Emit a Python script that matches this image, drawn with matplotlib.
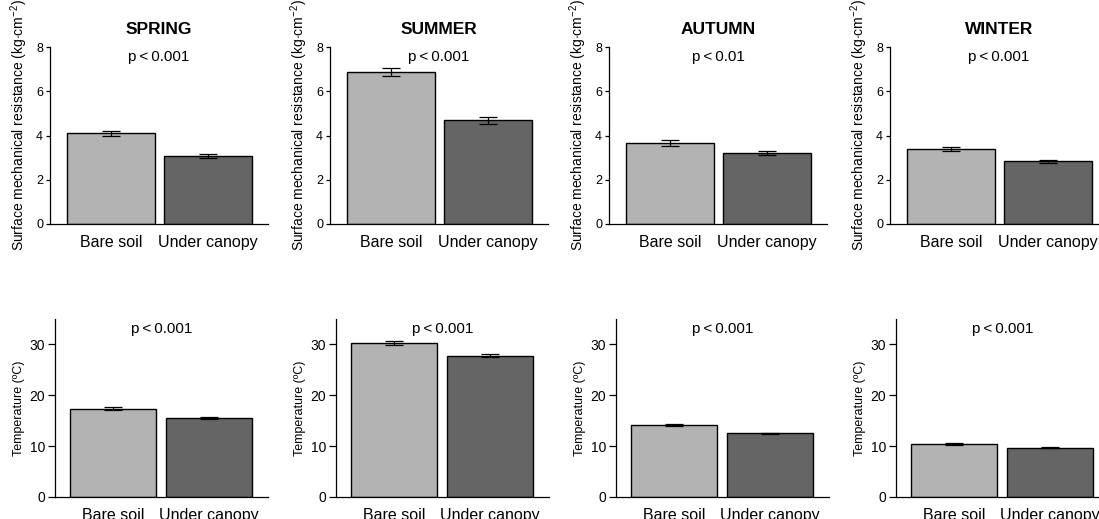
import matplotlib
matplotlib.use("Agg")
import matplotlib.pyplot as plt

plt.rcParams['font.family'] = ['Liberation Sans', 'DejaVu Sans']
plt.rcParams['mathtext.fontset'] = 'custom'
plt.rcParams['mathtext.rm'] = 'Liberation Sans'
plt.rcParams['mathtext.it'] = 'Liberation Sans:italic'

seasons = ["SPRING", "SUMMER", "AUTUMN", "WINTER"]
sites = ["Bare soil", "Under canopy"]

# Surface mechanical resistance (kg cm-2): mean and standard error
resist_mean = [[4.10, 3.07], [6.85, 4.68], [3.66, 3.20], [3.39, 2.83]]
resist_se = [[0.10, 0.10], [0.18, 0.14], [0.12, 0.08], [0.08, 0.07]]
resist_p = ["p\u2009<\u20090.001", "p\u2009<\u20090.001", "p\u2009<\u20090.01", "p\u2009<\u20090.001"]

# Soil temperature (ºC): mean and standard error
temp_mean = [[17.4, 15.5], [30.3, 27.8], [14.2, 12.5], [10.4, 9.7]]
temp_se = [[0.25, 0.25], [0.35, 0.35], [0.20, 0.15], [0.15, 0.12]]
temp_p = ["p\u2009<\u20090.001"] * 4

bar_colors = ["#b3b3b3", "#656565"]

W, H = 1099, 519
fig = plt.figure(figsize=(W / 100, H / 100), dpi=100)


def px_axes(left, right, top, bottom):
    return fig.add_axes([left / W, (H - bottom) / H, (right - left) / W, (bottom - top) / H])


def draw_panel(ax, means, ses, ptext, ylim, yticks, ylabel, xlim, label_xy,
               tick_len, tick_size, ylab_size):
    xs = [0, 1]
    ax.bar(xs, means, width=0.9, color=bar_colors, edgecolor="black", linewidth=1.0, zorder=2)
    ax.errorbar(xs, means, yerr=ses, fmt="none", ecolor="black", elinewidth=0.9,
                capsize=6.5, capthick=0.9, zorder=3)
    ax.set_xlim(*xlim)
    ax.set_ylim(*ylim)
    ax.set_yticks(yticks)
    ax.set_xticks(xs)
    ax.set_xticklabels(sites, fontsize=11.5)
    ax.tick_params(axis="x", length=0, pad=8)
    ax.tick_params(axis="y", length=tick_len, width=0.9, labelsize=tick_size, pad=2)
    for s in ("top", "right"):
        ax.spines[s].set_visible(False)
    ax.spines["left"].set_linewidth(0.9)
    ax.spines["bottom"].set_linewidth(0.9)
    ax.set_ylabel(ylabel, fontsize=ylab_size)
    ax.yaxis.set_label_coords(*label_xy)
    ax.text(0.5, 0.943, ptext, transform=ax.transAxes, ha="center", va="center", fontsize=11)


top_lefts = [50, 330, 609, 890]
bot_lefts = [55, 336, 616, 896]

for i, season in enumerate(seasons):
    l = top_lefts[i]
    ax = px_axes(l, l + 218, 47, 224)
    draw_panel(ax, resist_mean[i], resist_se[i], resist_p[i], (0, 8), [0, 2, 4, 6, 8],
               r"Surface mechanical resistance (kg$\cdot$cm$^{-2}$)",
               (-0.624, 1.614), (-0.09, 0.557), 3, 9, 10)
    ax.set_title(season, fontsize=12.5, fontweight="bold", pad=9)

    l = bot_lefts[i]
    ax2 = px_axes(l, l + 213, 319, 497)
    draw_panel(ax2, temp_mean[i], temp_se[i], temp_p[i], (0, 35), [0, 10, 20, 30],
               "Temperature (ºC)", (-0.607, 1.618), (-0.14, 0.5), 5, 10, 9)

fig.savefig("out.png", dpi=100)
